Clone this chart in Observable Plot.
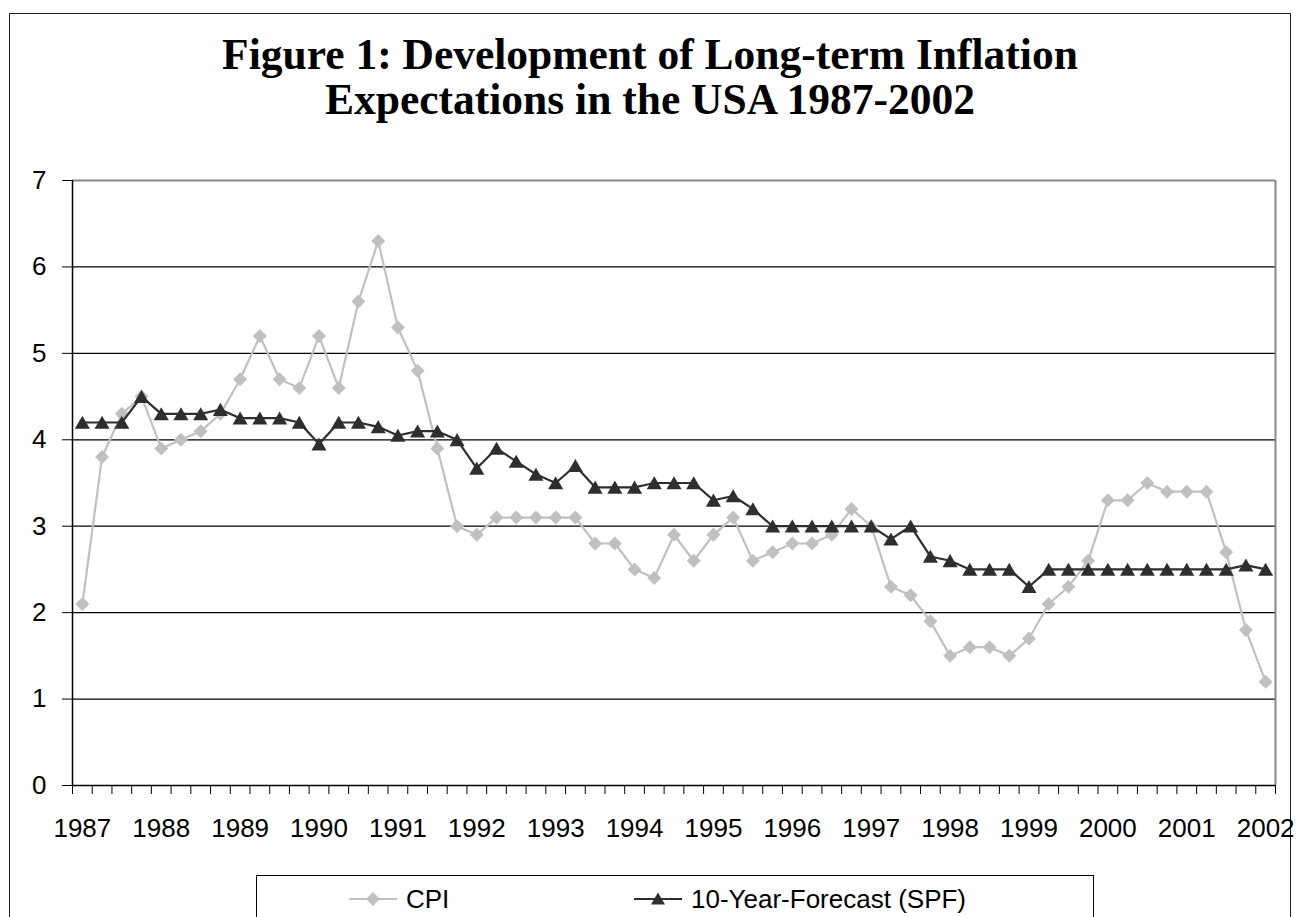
<!DOCTYPE html>
<html>
<head>
<meta charset="utf-8">
<script src="https://cdn.jsdelivr.net/npm/d3@7"></script>
<script src="https://cdn.jsdelivr.net/npm/@observablehq/plot@0.6"></script>
<style>
  html, body { margin: 0; padding: 0; background: #fff; }
  #page { position: relative; width: 1298px; height: 917px; overflow: hidden; background: #fff; }
  #frame { position: absolute; left: 9px; top: 13px; width: 1280px; height: 940px; border: 1.5px solid #222; }
  #title { position: absolute; left: 0; top: 32px; width: 1300px; text-align: center;
           font-family: "Liberation Serif", "Times New Roman", serif; font-weight: bold;
           font-size: 43.5px; line-height: 45px; color: #000; }
  #chart { position: absolute; left: 0; top: 160px; }
  #legend { position: absolute; left: 256px; top: 875px; width: 836px; height: 80px;
            border: 1px solid #000; background: #fff;
            font-family: "Liberation Sans", Arial, sans-serif; font-size: 26px; color: #000; }
  .item { position: absolute; top: 8px; display: flex; align-items: center; height: 30px; }
  .item svg { display: block; }
</style>
</head>
<body>
<div id="page">
  <div id="frame"></div>
  <div id="title">Figure 1: Development of Long-term Inflation<br>Expectations in the USA 1987-2002</div>
  <div id="chart"></div>
  <div id="legend"></div>
</div>
<script>
// Year tick labels (one every 4 quarters)
const tickLabels = ["1987","1988","1989","1990","1991","1992","1993","1994","1995","1996","1997","1998","1999","2000","2001","2002"];
// Quarterly categories 1987Q1 .. 2002Q1
const quarters = tickLabels.flatMap((y, k) => k < tickLabels.length - 1 ? [y+"Q1", y+"Q2", y+"Q3", y+"Q4"] : [y+"Q1"]);

// CPI inflation (%)
const cpi = [2.1,3.8,4.3,4.5,3.9,4.0,4.1,4.3,4.7,5.2,4.7,4.6,5.2,4.6,5.6,6.3,
             5.3,4.8,3.9,3.0,2.9,3.1,3.1,3.1,3.1,3.1,2.8,2.8,2.5,2.4,2.9,2.6,
             2.9,3.1,2.6,2.7,2.8,2.8,2.9,3.2,3.0,2.3,2.2,1.9,1.5,1.6,1.6,1.5,
             1.7,2.1,2.3,2.6,3.3,3.3,3.5,3.4,3.4,3.4,2.7,1.8,1.2];
// 10-Year-Forecast (SPF) (%)
const spf = [4.2,4.2,4.2,4.5,4.3,4.3,4.3,4.35,4.25,4.25,4.25,4.2,3.95,4.2,4.2,4.15,
             4.05,4.1,4.1,4.0,3.67,3.9,3.75,3.6,3.5,3.7,3.45,3.45,3.45,3.5,3.5,3.5,
             3.3,3.35,3.2,3.0,3.0,3.0,3.0,3.0,3.0,2.85,3.0,2.65,2.6,2.5,2.5,2.5,
             2.3,2.5,2.5,2.5,2.5,2.5,2.5,2.5,2.5,2.5,2.5,2.55,2.5];
const yTicks = [0,1,2,3,4,5,6,7];

const cpiRows = cpi.map((v, i) => ({i, q: quarters[i], v}));
const spfRows = spf.map((v, i) => ({i, q: quarters[i], v}));
const boundaries = d3.range(quarters.length + 1).map(k => k - 0.5);
const yearIdx = tickLabels.map((_, k) => k * 4);

const chart = Plot.plot({
  width: 1298,
  height: 700,
  marginTop: 20,
  marginBottom: 75,
  marginLeft: 72,
  marginRight: 23,
  x: {type: "linear", domain: [-0.5, quarters.length - 0.5], axis: null},
  y: {domain: [0, 7], axis: null},
  style: {fontFamily: "'Liberation Sans', Arial, sans-serif", fontSize: "26px", color: "#000", background: "transparent", overflow: "visible"},
  marks: [
    Plot.ruleY(yTicks.filter(t => t > 0 && t < 7), {stroke: "#000", strokeWidth: 1.2}),
    Plot.ruleY([7], {stroke: "#888", strokeWidth: 2}),
    Plot.ruleX([quarters.length - 0.5], {stroke: "#888", strokeWidth: 2}),
    Plot.axisY({ticks: yTicks, tickSize: 10, tickPadding: 16, fontSize: 26, stroke: "#000", tickFormat: d => String(d), label: null}),
    Plot.axisX({ticks: boundaries, tickSize: 9, tickFormat: () => "", stroke: "#000", label: null}),
    Plot.axisX({ticks: yearIdx, tickSize: 0, tickPadding: 33, fontSize: 26, tickFormat: i => tickLabels[i / 4], label: null}),
    Plot.ruleX([-0.5], {stroke: "#000", strokeWidth: 1.5}),
    Plot.ruleY([0], {stroke: "#000", strokeWidth: 1.5}),
    Plot.line(cpiRows, {x: "i", y: "v", stroke: "#c0c0c0", strokeWidth: 2.2}),
    Plot.dot(cpiRows, {x: "i", y: "v", symbol: "diamond2", r: 6.3, fill: "#c0c0c0", stroke: "none"}),
    Plot.line(spfRows, {x: "i", y: "v", stroke: "#2e2e2e", strokeWidth: 2.2}),
    Plot.dot(spfRows, {x: "i", y: "v", symbol: "triangle2", r: 7.2, dy: 2, fill: "#2e2e2e", stroke: "none"})
  ]
});
document.getElementById("chart").appendChild(chart);

// Legend
const legend = document.getElementById("legend");
function addItem(left, label, color, shape) {
  const div = document.createElement("div");
  div.className = "item";
  div.style.left = left + "px";
  const ns = "http://www.w3.org/2000/svg";
  const svg = document.createElementNS(ns, "svg");
  svg.setAttribute("width", 50); svg.setAttribute("height", 30);
  const ln = document.createElementNS(ns, "line");
  ln.setAttribute("x1", 0); ln.setAttribute("x2", 48); ln.setAttribute("y1", 15); ln.setAttribute("y2", 15);
  ln.setAttribute("stroke", color); ln.setAttribute("stroke-width", 2);
  svg.appendChild(ln);
  const p = document.createElementNS(ns, "path");
  p.setAttribute("d", shape === "diamond" ? "M24,8L31,15L24,22L17,15Z" : "M24,8.5L31,20.5L17,20.5Z");
  p.setAttribute("fill", color);
  svg.appendChild(p);
  div.appendChild(svg);
  const t = document.createElement("span");
  t.textContent = label;
  t.style.marginLeft = "7px";
  div.appendChild(t);
  legend.appendChild(div);
}
addItem(92, "CPI", "#c0c0c0", "diamond");
addItem(377, "10-Year-Forecast (SPF)", "#2e2e2e", "triangle");
</script>
</body>
</html>
